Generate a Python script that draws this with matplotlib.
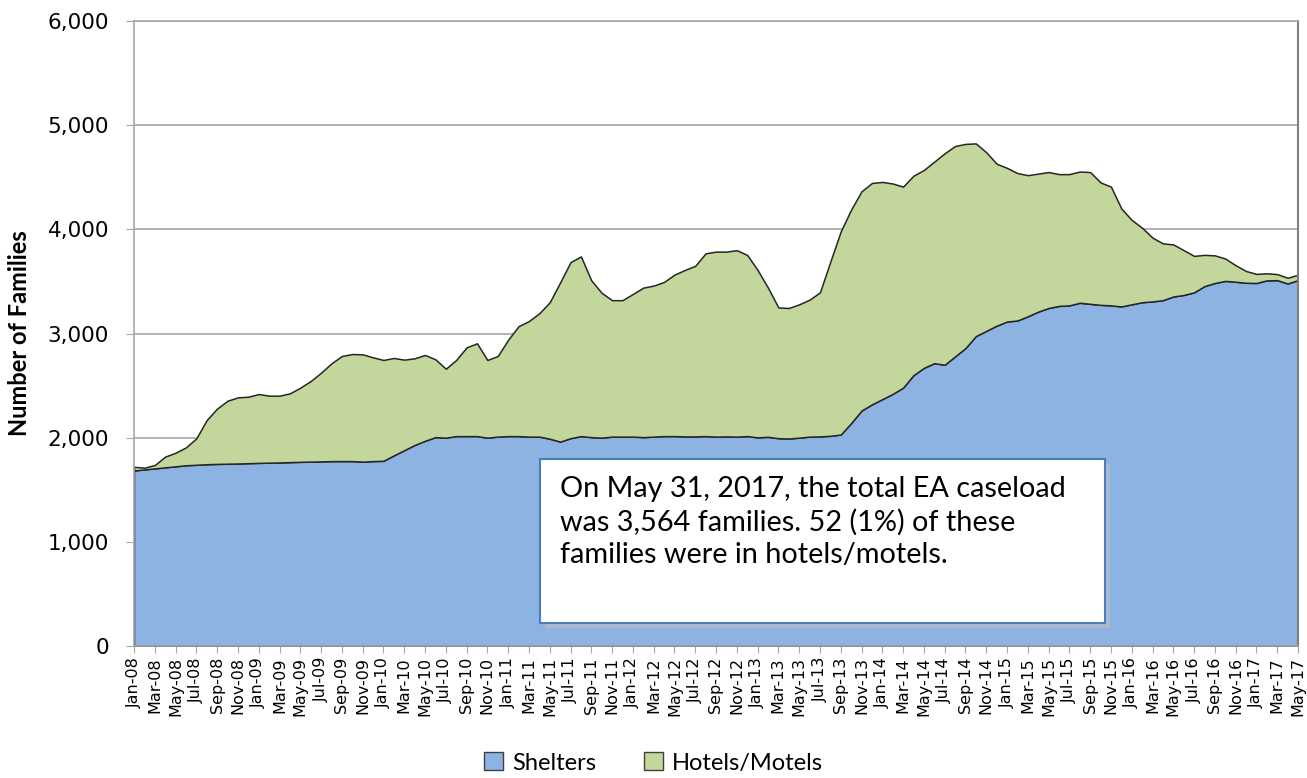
import matplotlib
matplotlib.use('Agg')
import matplotlib.pyplot as plt
from matplotlib.patches import Patch, Rectangle
from matplotlib.ticker import FuncFormatter
import numpy as np
import pandas as pd

months = pd.date_range('2008-01-01', '2017-05-01', freq='MS').strftime('%b-%y').tolist()

shelters = [1685, 1695, 1705, 1715, 1725, 1735, 1740, 1745, 1748, 1750, 1752, 1755,
            1758, 1760, 1762, 1765, 1768, 1770, 1772, 1775, 1775, 1775, 1770, 1775,
            1778, 1830, 1880, 1930, 1970, 2005, 2000, 2015, 2015, 2015, 2000, 2010,
            2015, 2015, 2010, 2010, 1990, 1962, 1995, 2015, 2005, 2000, 2010, 2010,
            2010, 2005, 2010, 2015, 2015, 2012, 2012, 2015, 2010, 2012, 2010, 2015,
            2003, 2008, 1995, 1992, 2000, 2010, 2012, 2018, 2030, 2140, 2260, 2320,
            2370, 2420, 2480, 2600, 2670, 2715, 2700, 2780, 2860, 2975, 3025, 3075,
            3115, 3125, 3165, 3210, 3245, 3265, 3270, 3295, 3285, 3275, 3270, 3260,
            3280, 3300, 3308, 3320, 3355, 3370, 3395, 3455, 3485, 3505, 3497, 3487,
            3485, 3510, 3512, 3480, 3512]

hotels = [35, 17, 33, 103, 131, 172, 254, 425, 532, 605, 635, 638,
          661, 643, 641, 661, 712, 774, 852, 939, 1009, 1028, 1030, 996,
          968, 935, 869, 832, 824, 747, 662, 731, 852, 891, 746, 774,
          925, 1055, 1110, 1185, 1310, 1528, 1690, 1725, 1505, 1390, 1310, 1310,
          1370, 1435, 1450, 1480, 1550, 1598, 1638, 1755, 1776, 1774, 1790, 1739,
          1607, 1432, 1255, 1253, 1280, 1315, 1383, 1672, 1950, 2050, 2105, 2125,
          2085, 2020, 1930, 1915, 1900, 1935, 2030, 2020, 1960, 1850, 1715, 1555,
          1475, 1415, 1355, 1325, 1305, 1265, 1260, 1260, 1265, 1175, 1140, 940,
          810, 715, 612, 545, 500, 430, 350, 300, 265, 215, 158, 113,
          87, 68, 58, 55, 52]

series_names = ['Shelters', 'Hotels/Motels']
colors = ['#8DB3E2', '#C3D69B']
note = ("On May 31, 2017, the total EA caseload\n"
        "was 3,564 families. 52 (1%) of these\n"
        "families were in hotels/motels.")

fig = plt.figure(figsize=(13.07, 7.78), dpi=100)
L, R = 134, 1298
ax = fig.add_axes([L/1307, 1 - 646/778, (R-L)/1307, (646-21)/778])
W = R - L

x = np.arange(len(months))
ax.stackplot(x, shelters, hotels, colors=colors, edgecolor='#262626', linewidth=1.1, zorder=2)

ax.set_xlim(0, len(months) - 1)
ax.set_ylim(0, 6000)
ax.set_yticks(range(0, 6001, 1000))
ax.yaxis.set_major_formatter(FuncFormatter(lambda v, p: f'{int(v):,}'))
ax.grid(axis='y', color='#a6a6a6', lw=1.2, zorder=0)
ax.set_axisbelow(True)
ax.set_xticks(x[::2])
ax.set_xticklabels(months[::2], rotation=90, fontsize=11.5, family='DejaVu Sans')
ax.tick_params(axis='y', labelsize=15.5, length=6, color='#a6a6a6', pad=12)
ax.tick_params(axis='x', length=5, color='#a6a6a6', pad=3)

for s in ['left', 'bottom', 'top']:
    ax.spines[s].set_color('#a6a6a6')
    ax.spines[s].set_linewidth(1.2)
ax.spines['right'].set_color('#7f7f7f')
ax.spines['right'].set_linewidth(1.5)

ax.set_ylabel('Number of Families', fontsize=17, fontweight='bold', family='Lato', labelpad=12)

# annotation box
bx0, by0 = (540 - L) / W, (646 - 623) / 625
bw, bh = (1105 - 540) / W, (623 - 459) / 625
shadow = Rectangle((bx0 + 0.004, by0 - 0.008), bw, bh, transform=ax.transAxes,
                   facecolor='#bfbfbf', edgecolor='none', alpha=0.6, zorder=5)
box = Rectangle((bx0, by0), bw, bh, transform=ax.transAxes,
                facecolor='white', edgecolor='#4A7EBB', linewidth=1.5, zorder=6)
ax.add_patch(shadow)
ax.add_patch(box)
ax.text((560 - L) / W, (646 - 476) / 625, note, transform=ax.transAxes,
        fontsize=20.8, family='Lato', va='top', ha='left', linespacing=1.31, zorder=7)

handles = [Patch(facecolor=c, edgecolor='#404040', linewidth=1) for c in colors]
fig.legend(handles, series_names, loc='center', bbox_to_anchor=(0.5, 1 - 763 / 778),
           ncol=2, frameon=False, prop={'family': 'Lato', 'size': 17},
           handlelength=0.8, handleheight=0.8, handletextpad=0.4, columnspacing=2.0)

fig.savefig('out.png', dpi=100)
